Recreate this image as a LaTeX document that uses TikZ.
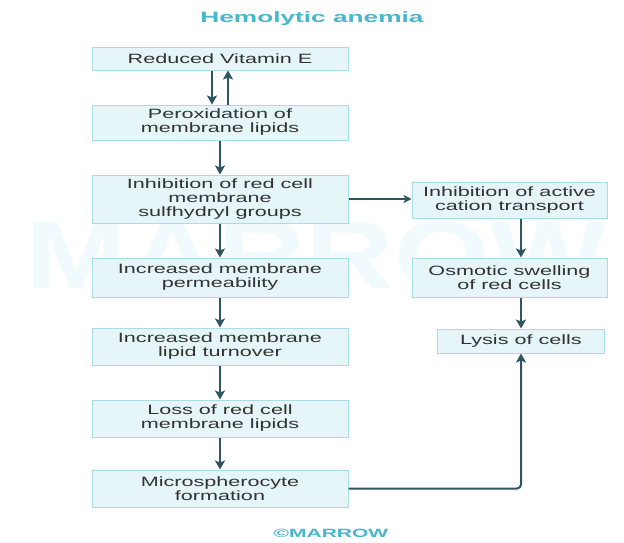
\documentclass[tikz,border=0pt]{standalone}
\usepackage{fontspec}
\usepackage{graphicx}
\setmainfont{Liberation Sans}
\newfontfamily\boxfont{Liberation Sans}[FakeStretch=1.6]
\newfontfamily\headfont{Liberation Sans Bold}[FakeStretch=1.75]
\newfontfamily\markfont{Liberation Sans Bold}[FakeStretch=1.28]
\usetikzlibrary{arrows.meta}

\definecolor{boxfill}{HTML}{E5F5F8}
\definecolor{boxline}{HTML}{A9DCE4}
\definecolor{arrowc}{HTML}{2F5562}
\definecolor{headc}{HTML}{4AB6CE}
\definecolor{markc}{HTML}{F1FAFC}

\tikzset{
  stepbox/.style={draw=boxline, fill=boxfill, line width=1pt, inner sep=0pt,
    align=center, font=\boxfont\fontsize{13.5}{14}\selectfont, text=black!80},
  leftbox/.style={stepbox, minimum width=256pt},
  rightbox/.style={stepbox, minimum width=195pt},
  flow/.style={draw=arrowc, line width=2pt,
    -{Stealth[length=9pt, width=10pt, inset=2pt]}},
  thinflow/.style={draw=arrowc, line width=1.3pt,
    -{Stealth[length=8pt, width=8pt, inset=2pt]}},
}

\begin{document}
\begin{tikzpicture}[x=1pt, y=-1pt]
  \useasboundingbox (0,0) rectangle (624,542);
  \fill[white] (0,0) rectangle (624,542);

  % faint background lettering
  \node[text=markc, inner sep=0pt] (wm) at (316,255)
    {\markfont\fontsize{96}{96}\selectfont MARROW};

  % title
  \node[text=headc, inner sep=0pt] (title) at (312,19)
    {\headfont\fontsize{15}{15}\selectfont Hemolytic anemia};

  % main chain
  \node[leftbox, minimum height=23pt] (b1) at (220,58.5) {Reduced Vitamin E};
  \node[leftbox, minimum height=35pt] (b2) at (220,122.5) {Peroxidation of\\membrane lipids};
  \node[leftbox, minimum height=48pt] (b3) at (220,199) {Inhibition of red cell\\membrane\\sulfhydryl groups};
  \node[leftbox, minimum height=39pt] (b4) at (220,277.5) {Increased membrane\\permeability};
  \node[leftbox, minimum height=37pt] (b5) at (220,346.5) {Increased membrane\\lipid turnover};
  \node[leftbox, minimum height=37pt] (b6) at (220,418.5) {Loss of red cell\\membrane lipids};
  \node[leftbox, minimum height=37pt] (b7) at (220,488.5) {Microspherocyte\\formation};

  % side chain
  \node[rightbox, minimum height=36pt] (r1) at (509.5,200) {Inhibition of active\\cation transport};
  \node[rightbox, minimum height=39pt] (r2) at (509.5,277.5) {Osmotic swelling\\of red cells};
  \node[stepbox, minimum width=167pt, minimum height=24pt] (r3) at (521,341) {Lysis of cells};

  % connectors
  \draw[flow] ([xshift=-8pt]b1.south) -- ([xshift=-8pt]b2.north);
  \draw[flow] ([xshift=8pt]b2.north) -- ([xshift=8pt]b1.south);
  \draw[flow] (b2) -- (b3);
  \draw[flow] (b3) -- (b4);
  \draw[flow] (b4) -- (b5);
  \draw[flow] (b5) -- (b6);
  \draw[flow] (b6) -- (b7);
  \draw[thinflow] (b3.east) -- (r1.west |- b3.east);
  \draw[flow] (r1.south -| r3) -- (r2.north -| r3);
  \draw[flow] (r2.south -| r3) -- (r3.north);
  \draw[flow, rounded corners=4pt] (b7.east) -| (r3.south);

  % credit line
  \node[text=headc, inner sep=0pt] (credit) at (331,533)
    {\headfont\fontsize{12}{12}\selectfont \textcopyright MARROW};
\end{tikzpicture}
\end{document}
